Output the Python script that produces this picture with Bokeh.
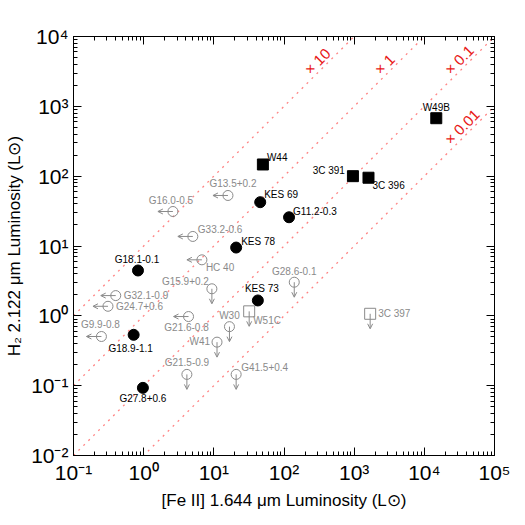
import math
from bokeh.plotting import figure
from bokeh.models import (ColumnDataSource, Range1d, LogAxis, FixedTicker,
                          CustomJSTickFormatter, Arrow, OpenHead)
from bokeh.core.properties import value
from bokeh.embed import file_html
from bokeh.resources import INLINE

# ---------------- data ----------------
# detections, filled circles
det_circ_names = ["G18.1-0.1", "G18.9-1.1", "G27.8+0.6", "KES 78", "KES 69", "G11.2-0.3", "KES 73"]
det_circ_fe = [0.83, 0.72, 0.975, 20.8, 45.8, 118.0, 42.4]
det_circ_h2 = [4.46, 0.535, 0.093, 9.5, 42.4, 25.8, 1.66]

# detections, filled squares
det_sq_names = ["W44", "3C 391", "3C 396", "W49B"]
det_sq_fe = [50.0, 960.0, 1600.0, 14800.0]
det_sq_h2 = [147.0, 100.0, 95.0, 676.0]

# [Fe II] upper limits (left arrows), open circles
limfe_names = ["G13.5+0.2", "G16.0-0.5", "G33.2-0.6", "HC 40", "G32.1-0.9",
               "G24.7+0.6", "G9.9-0.8", "G21.6-0.8"]
limfe_fe = [15.9, 2.61, 5.02, 6.76, 0.40, 0.31, 0.25, 4.36]
limfe_h2 = [52.9, 31.2, 13.7, 6.34, 1.95, 1.37, 0.506, 0.977]

# H2 upper limits (down arrows), open circles
limh2_names = ["G15.9+0.2", "W30", "W41", "G21.5-0.9", "G41.5+0.4", "G28.6-0.1"]
limh2_fe = [9.38, 16.7, 11.1, 4.13, 20.8, 140.0]
limh2_h2 = [2.44, 0.70, 0.42, 0.145, 0.145, 3.03]

# H2 upper limits (down arrows), open squares
limsq_names = ["W51C", "3C 397"]
limsq_fe = [31.9, 1690.0]
limsq_h2 = [1.16, 1.07]

# ratio lines H2 = r * [Fe II]
ratios = [10, 1, 0.1, 0.01]
ratio_labels = ["\u00d7 10", "\u00d7 1", "\u00d7 0.1", "\u00d7 0.01"]
ratio_label_fe = [257.0, 2570.0, 25700.0, 25700.0]

x_ticks = [0.1, 1, 10, 100, 1000, 10000, 100000]
y_ticks = [0.01, 0.1, 1, 10, 100, 1000, 10000]

# ---------------- label placement (styles) ----------------
det_circ_off = [(-1, -11, "center"), (-3, 14, "center"), (0, 11, "center"), (5, -6, "left"),
                (4, -8, "left"), (4, -6, "left"), (4, -12, "center")]
det_sq_off = [(4, -7, "left"), (-8, -6, "right"), (4, 8, "left"), (0, -11, "center")]
limfe_off = [(5, -12, "center"), (-2, -11, "center"), (5, -7, "left"), (4, 8, "left"),
             (8, 0, "left"), (8, 0, "left"), (-1, -12, "center"), (-2, 11, "center")]
limh2_off = [(-3, -7, "right"), (0, -11, "center"), (-7, -1, "right"), (0, -12, "center"),
             (5, -7, "left"), (0, -11, "center")]
limsq_off = [(4, 9, "left"), (8, 0, "left")]

GRAY = "#8a8a8a"
FONT = value("Liberation Sans")
ARROW_PX = 15.0
PX_PER_DEC_X = 70.17
PX_PER_DEC_Y = 69.83


def src(names, xs, ys, offs):
    return ColumnDataSource(dict(
        x=xs, y=ys, name=names,
        dx=[o[0] for o in offs], dy=[o[1] for o in offs], al=[o[2] for o in offs]))


p = figure(width=525, height=525, x_axis_type="log", y_axis_type="log",
           x_range=Range1d(0.1, 1e5), y_range=Range1d(0.01, 1e4),
           output_backend="svg", toolbar_location=None,
           min_border_left=73, min_border_right=31, min_border_top=36, min_border_bottom=70,
           background_fill_color="white", border_fill_color="white")
p.xgrid.visible = False
p.ygrid.visible = False
p.outline_line_color = "black"

# ratio lines
xr = [0.1, 1e5]
p.multi_line(xs=[xr for _ in ratios], ys=[[r * xr[0], r * xr[1]] for r in ratios],
             line_color="#ff3030", line_alpha=0.6, line_width=1.3, line_dash="2 5")
p.text(x=ratio_label_fe, y=[r * x for r, x in zip(ratios, ratio_label_fe)], text=ratio_labels,
       angle=math.pi / 4, text_align="left", text_baseline="bottom",
       text_color="#e81818", text_font_size="15px", text_font=FONT)

# arrows
fac_x = 10 ** (-ARROW_PX / PX_PER_DEC_X)
fac_y = 10 ** (-ARROW_PX / PX_PER_DEC_Y)
arr_left = ColumnDataSource(dict(x0=limfe_fe, y0=limfe_h2,
                                 x1=[v * fac_x for v in limfe_fe], y1=limfe_h2))
p.add_layout(Arrow(end=OpenHead(size=5, line_color=GRAY, line_width=1),
                   x_start="x0", y_start="y0", x_end="x1", y_end="y1",
                   source=arr_left, line_color=GRAY, line_width=1))
down_fe = limh2_fe + limsq_fe
down_h2 = limh2_h2 + limsq_h2
arr_down = ColumnDataSource(dict(x0=down_fe, y0=down_h2,
                                 x1=down_fe, y1=[v * fac_y for v in down_h2]))
p.add_layout(Arrow(end=OpenHead(size=5, line_color=GRAY, line_width=1),
                   x_start="x0", y_start="y0", x_end="x1", y_end="y1",
                   source=arr_down, line_color=GRAY, line_width=1))

# markers
s_dc = src(det_circ_names, det_circ_fe, det_circ_h2, det_circ_off)
s_ds = src(det_sq_names, det_sq_fe, det_sq_h2, det_sq_off)
s_lf = src(limfe_names, limfe_fe, limfe_h2, limfe_off)
s_lh = src(limh2_names, limh2_fe, limh2_h2, limh2_off)
s_ls = src(limsq_names, limsq_fe, limsq_h2, limsq_off)

p.scatter("x", "y", source=s_dc, marker="circle", size=11, fill_color="black", line_color="black")
p.scatter("x", "y", source=s_ds, marker="square", size=11, fill_color="black", line_color="black")
p.scatter("x", "y", source=s_lf, marker="circle", size=10, fill_color=None, line_color=GRAY, line_width=1)
p.scatter("x", "y", source=s_lh, marker="circle", size=10, fill_color=None, line_color=GRAY, line_width=1)
p.scatter("x", "y", source=s_ls, marker="square", size=11, fill_color=None, line_color=GRAY, line_width=1)

for s, col in [(s_dc, "black"), (s_ds, "black"), (s_lf, GRAY), (s_lh, GRAY), (s_ls, GRAY)]:
    p.text("x", "y", source=s, text="name", x_offset="dx", y_offset="dy", text_align="al",
           text_baseline="middle", text_color=col, text_font_size="10px", text_font=FONT)

# axes
fmt_code = """
const sup = {"-":"\u207b","0":"\u2070","1":"\u00b9","2":"\u00b2","3":"\u00b3","4":"\u2074",
             "5":"\u2075","6":"\u2076","7":"\u2077","8":"\u2078","9":"\u2079"};
const e = Math.round(Math.log10(tick));
return "10" + String(e).split("").map(c => sup[c]).join("");
"""
blank_code = "return '';"


def minors(majors):
    out = []
    for m in majors[:-1]:
        out += [k * m for k in range(2, 10)]
    return out


def style(ax, ticks, labels=True):
    ax.ticker = FixedTicker(ticks=ticks, minor_ticks=minors(ticks))
    ax.formatter = CustomJSTickFormatter(code=fmt_code if labels else blank_code)
    ax.major_tick_in = 8
    ax.major_tick_out = 0
    ax.minor_tick_in = 4
    ax.minor_tick_out = 0
    ax.axis_line_color = "black"
    ax.major_tick_line_color = "black"
    ax.minor_tick_line_color = "black"
    ax.major_label_text_font = "Liberation Sans"
    ax.major_label_text_font_size = "21px" if labels else "0px"
    ax.major_label_text_color = "black"
    ax.axis_label_text_font = "Liberation Sans"
    ax.axis_label_text_font_size = "17px"
    ax.axis_label_text_font_style = "normal"
    ax.axis_label_text_color = "black"
    ax.major_label_standoff = 5


style(p.xaxis[0], x_ticks)
style(p.yaxis[0], y_ticks)
p.xaxis[0].axis_label = "[Fe II] 1.644 \u03bcm Luminosity (L\u2299)"
p.yaxis[0].axis_label = "H\u2082 2.122 \u03bcm Luminosity (L\u2299)"
p.xaxis[0].axis_label_standoff = 4
p.yaxis[0].axis_label_standoff = 4

top = LogAxis()
right = LogAxis()
style(top, x_ticks, labels=False)
style(right, y_ticks, labels=False)
p.add_layout(top, "above")
p.add_layout(right, "right")

open("out.html", "w").write(file_html(p, INLINE))
